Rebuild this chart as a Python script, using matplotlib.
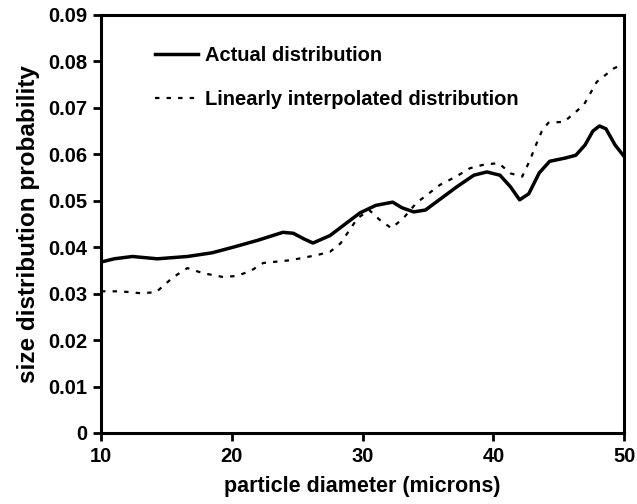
import numpy as np
import matplotlib.pyplot as plt

plt.rcParams['font.family'] = ['Liberation Sans', 'DejaVu Sans']
plt.rcParams['font.weight'] = 'bold'

# actual size distribution
d_actual = [10, 11, 12.4, 14.3, 16.6, 18.5, 20.1, 22, 23.9, 24.7, 25.5, 26.2, 27.5,
            29.8, 31.0, 32.3, 33.0, 33.9, 34.8, 36, 37.2, 38.5, 39.5, 40.5, 41.3,
            42.0, 42.7, 43.5, 44.3, 45.5, 46.3, 47.0, 47.6, 48.1, 48.6, 49.3, 50]
p_actual = [0.0368, 0.0375, 0.0380, 0.0375, 0.0380, 0.0388, 0.0400, 0.0415, 0.0432,
            0.0430, 0.0418, 0.0409, 0.0425, 0.0474, 0.0490, 0.0497, 0.0485, 0.0476,
            0.0480, 0.0505, 0.0530, 0.0555, 0.0562, 0.0555, 0.0530, 0.0502, 0.0515,
            0.0560, 0.0585, 0.0592, 0.0598, 0.0620, 0.0650, 0.0661, 0.0655, 0.0620,
            0.0595]

# linearly interpolated distribution
d_lin = [10, 11.5, 13, 14.2, 15.5, 16.6, 17.8, 19.3, 20.4, 21.5, 22.4, 24.5, 26.5,
         27.5, 28.3, 29.6, 30.5, 31.3, 32.2, 33.1, 34.1, 35.9, 37.2, 38.2, 39.3,
         40.4, 41.3, 42.2, 42.8, 43.2, 43.7, 44.2, 45.4, 46.9, 47.9, 49.2, 49.6]
p_lin = [0.0305, 0.0305, 0.0301, 0.0303, 0.0335, 0.0355, 0.0344, 0.0336, 0.0338,
         0.0350, 0.0366, 0.0372, 0.0383, 0.0390, 0.0408, 0.0462, 0.0480, 0.0459,
         0.0441, 0.0462, 0.0495, 0.0534, 0.0553, 0.0570, 0.0578, 0.0581, 0.0559,
         0.0552, 0.0588, 0.0617, 0.0650, 0.0668, 0.0670, 0.0706, 0.0756, 0.0785,
         0.0790]

fig = plt.figure(figsize=(6.37, 5.04), dpi=100)
ax = fig.add_axes([0.1586, 0.1409, 0.8214, 0.8294])

ax.plot(d_actual, p_actual, color='black', lw=2.5, label='Actual distribution')
ax.plot(d_lin, p_lin, color='black', lw=1.6, linestyle=(0, (2, 3.2)),
        label='Linearly interpolated distribution')

ax.set_xlim(10, 50)
ax.set_ylim(0, 0.09)
ax.set_xticks([10, 20, 30, 40, 50])
ax.set_yticks(np.arange(0, 0.091, 0.01))
ax.set_yticklabels(['0'] + ['%.2f' % v for v in np.arange(0.01, 0.091, 0.01)])

for s in ax.spines.values():
    s.set_linewidth(2.2)
ax.tick_params(direction='out', length=6, width=2, labelsize=14.5, pad=4)

ax.set_xlabel('particle diameter (microns)', fontsize=15.5, fontweight='bold', labelpad=7)
ax.set_ylabel('size distribution probability', fontsize=17.5, fontweight='bold', labelpad=6)

leg = ax.legend(loc='upper left', bbox_to_anchor=(0.103, 0.925), frameon=False,
                prop={'size': 14.5, 'weight': 'bold'}, handlelength=2.15,
                labelspacing=1.22, handletextpad=0.35, borderpad=0, borderaxespad=0)

fig.savefig('out.png', dpi=100)
